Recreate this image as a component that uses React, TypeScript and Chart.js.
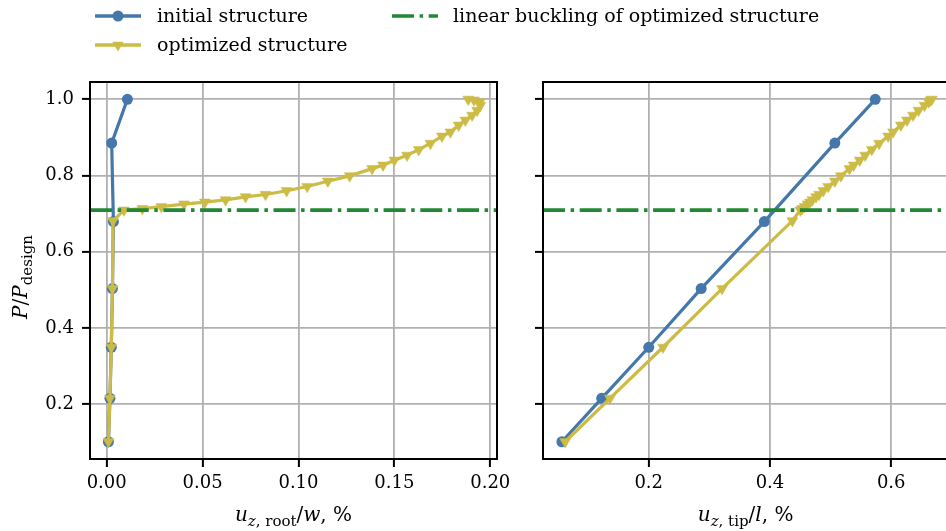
import React, { useEffect, useRef } from "react";
import { Chart, registerables } from "chart.js";

Chart.register(...registerables);

// ---------- data ----------
const initialLoad = [0.101, 0.215, 0.349, 0.503, 0.679, 0.885, 1.0];
const initialRoot = [0.0009, 0.0017, 0.0024, 0.003, 0.0035, 0.0026, 0.0108];
const initialTip = [0.0568, 0.1224, 0.2, 0.2865, 0.3907, 0.507, 0.5737];

const optimizedLoad = [
  0.101, 0.215, 0.349, 0.503, 0.681, 0.709, 0.713, 0.718, 0.725, 0.73, 0.736,
  0.744, 0.75, 0.76, 0.771, 0.785, 0.799, 0.818, 0.827, 0.84, 0.853, 0.868,
  0.884, 0.903, 0.914, 0.932, 0.945, 0.958, 0.971, 0.984, 0.993, 0.998, 1.0,
];
const optimizedRoot = [
  0.0009, 0.0017, 0.0024, 0.003, 0.0033, 0.009, 0.0186, 0.0285, 0.0403, 0.0512,
  0.062, 0.0724, 0.0828, 0.0938, 0.1045, 0.1153, 0.1267, 0.1384, 0.1441, 0.15,
  0.1566, 0.1627, 0.1688, 0.1748, 0.1792, 0.1835, 0.187, 0.1905, 0.1931, 0.1948,
  0.1945, 0.1915, 0.1885,
];
const optimizedTip = [
  0.0622, 0.136, 0.2235, 0.321, 0.437, 0.45, 0.453, 0.457, 0.462, 0.466, 0.47,
  0.476, 0.481, 0.488, 0.496, 0.507, 0.517, 0.531, 0.538, 0.548, 0.557, 0.568,
  0.58, 0.595, 0.603, 0.616, 0.626, 0.636, 0.645, 0.655, 0.662, 0.665, 0.667,
];

const bucklingLoad = 0.709;

const loadTicks = [0.2, 0.4, 0.6, 0.8, 1.0];
const rootTicks = [0.0, 0.05, 0.1, 0.15, 0.2];
const tipTicks = [0.2, 0.4, 0.6];

const legendLabels = [
  "initial structure",
  "optimized structure",
  "linear buckling of optimized structure",
];

// ---------- styles ----------
const BLUE = "#4477AA";
const YELLOW = "#CCBB44";
const GREEN = "#228833";
const GRID = "#b0b0b0";
const FONT = "'DejaVu Serif', serif";
const DASHDOT = [22, 5.6, 3.5, 5.6];

type Part = { t: string; it?: boolean; sub?: boolean };

function drawMath(
  ctx: CanvasRenderingContext2D,
  parts: Part[],
  cx: number,
  baseline: number,
  size: number,
  subSize: number,
  subShift: number
) {
  const fonts = parts.map(
    (p) => `${p.it ? "italic " : ""}${p.sub ? subSize : size}px ${FONT}`
  );
  const widths = parts.map((p, i) => {
    ctx.font = fonts[i];
    return ctx.measureText(p.t).width;
  });
  const total = widths.reduce((a, b) => a + b, 0);
  let x = cx - total / 2;
  ctx.fillStyle = "#000";
  ctx.textAlign = "left";
  ctx.textBaseline = "alphabetic";
  parts.forEach((p, i) => {
    ctx.font = fonts[i];
    ctx.fillText(p.t, x, baseline + (p.sub ? subShift : 0));
    x += widths[i];
  });
}

function drawTriangleDown(ctx: CanvasRenderingContext2D, x: number, y: number, r: number) {
  ctx.beginPath();
  ctx.moveTo(x, y + r);
  ctx.lineTo(x - r * 0.866, y - r * 0.5);
  ctx.lineTo(x + r * 0.866, y - r * 0.5);
  ctx.closePath();
  ctx.fill();
}

const framePlugin = {
  id: "frame",
  afterDatasetsDraw(chart: any) {
    const { ctx, chartArea } = chart;
    ctx.save();
    ctx.strokeStyle = "#000";
    ctx.lineWidth = 2;
    ctx.strokeRect(
      chartArea.left,
      chartArea.top,
      chartArea.right - chartArea.left,
      chartArea.bottom - chartArea.top
    );
    ctx.restore();
  },
};

function makeDatasets(xInit: number[], xOpt: number[], xMin: number, xMax: number) {
  return [
    {
      label: legendLabels[0],
      data: xInit.map((x, i) => ({ x, y: initialLoad[i] })),
      borderColor: BLUE,
      backgroundColor: BLUE,
      borderWidth: 3.2,
      pointStyle: "circle",
      pointRadius: 5.5,
      pointBorderWidth: 0,
      pointBackgroundColor: BLUE,
      tension: 0,
      order: 3,
    },
    {
      label: legendLabels[1],
      data: xOpt.map((x, i) => ({ x, y: optimizedLoad[i] })),
      borderColor: YELLOW,
      backgroundColor: YELLOW,
      borderWidth: 3.2,
      pointStyle: "triangle",
      rotation: 180,
      pointRotation: 180,
      pointRadius: 6.3,
      pointBorderWidth: 0.5,
      pointBorderColor: YELLOW,
      pointBackgroundColor: YELLOW,
      tension: 0,
      order: 2,
    },
    {
      label: legendLabels[2],
      data: [
        { x: xMin, y: bucklingLoad },
        { x: xMax, y: bucklingLoad },
      ],
      borderColor: GREEN,
      backgroundColor: GREEN,
      borderWidth: 3.6,
      borderDash: DASHDOT,
      pointRadius: 0,
      tension: 0,
      order: 1,
    },
  ];
}

function makeScales(
  xMin: number,
  xMax: number,
  xTicks: number[],
  xDigits: number,
  yWidth: number,
  showYLabels: boolean
) {
  const yMin = 0.0557;
  const yMax = 1.0454;
  return {
    x: {
      type: "linear",
      min: xMin,
      max: xMax,
      afterBuildTicks: (s: any) => {
        s.ticks = xTicks.map((v) => ({ value: v }));
      },
      afterFit: (s: any) => {
        s.height = 72;
      },
      ticks: {
        callback: (v: any) => Number(v).toFixed(xDigits),
        font: { family: FONT, size: 18 },
        color: "#000",
        padding: 6,
        maxRotation: 0,
        autoSkip: false,
      },
      grid: {
        color: GRID,
        lineWidth: 1.8,
        drawTicks: true,
        tickLength: 8,
        tickWidth: 2,
        tickColor: "#000",
      },
      border: { display: false },
    },
    y: {
      type: "linear",
      min: yMin,
      max: yMax,
      afterBuildTicks: (s: any) => {
        s.ticks = loadTicks.map((v) => ({ value: v }));
      },
      afterFit: (s: any) => {
        s.width = yWidth;
      },
      ticks: {
        display: showYLabels,
        callback: (v: any) => Number(v).toFixed(1),
        font: { family: FONT, size: 18 },
        color: "#000",
        padding: 8,
        autoSkip: false,
      },
      grid: {
        color: GRID,
        lineWidth: 1.8,
        drawTicks: true,
        tickLength: 8,
        tickWidth: 2,
        tickColor: "#000",
      },
      border: { display: false },
    },
  };
}

export default function App() {
  const leftRef = useRef<HTMLCanvasElement | null>(null);
  const rightRef = useRef<HTMLCanvasElement | null>(null);

  useEffect(() => {
    const lMin = -0.0087;
    const lMax = 0.2035;
    const rMin = 0.0256;
    const rMax = 0.694;

    const leftText = {
      id: "leftText",
      afterDraw(chart: any) {
        const ctx: CanvasRenderingContext2D = chart.ctx;
        const ca = chart.chartArea;
        ctx.save();
        ctx.lineCap = "butt";
        // initial
        ctx.strokeStyle = BLUE;
        ctx.lineWidth = 3.6;
        ctx.beginPath();
        ctx.moveTo(95, 16);
        ctx.lineTo(141, 16);
        ctx.stroke();
        ctx.fillStyle = BLUE;
        ctx.beginPath();
        ctx.arc(118, 16, 5.5, 0, Math.PI * 2);
        ctx.fill();
        // optimized
        ctx.strokeStyle = YELLOW;
        ctx.beginPath();
        ctx.moveTo(95, 45);
        ctx.lineTo(141, 45);
        ctx.stroke();
        ctx.fillStyle = YELLOW;
        drawTriangleDown(ctx, 118, 45, 6.5);
        // buckling
        ctx.strokeStyle = GREEN;
        ctx.lineWidth = 3.6;
        ctx.setLineDash(DASHDOT);
        ctx.beginPath();
        ctx.moveTo(392, 16);
        ctx.lineTo(438, 16);
        ctx.stroke();
        ctx.setLineDash([]);

        ctx.fillStyle = "#000";
        ctx.font = `19px ${FONT}`;
        ctx.textAlign = "left";
        ctx.textBaseline = "alphabetic";
        ctx.fillText(legendLabels[0], 157, 22);
        ctx.fillText(legendLabels[1], 157, 51);
        ctx.fillText(legendLabels[2], 453, 22);

        // x title
        drawMath(
          ctx,
          [
            { t: "u", it: true },
            { t: "z", it: true, sub: true },
            { t: ", root", sub: true },
            { t: "/" },
            { t: "w", it: true },
            { t: ", %" },
          ],
          (ca.left + ca.right) / 2,
          521,
          20,
          15,
          5
        );
        // y title
        ctx.translate(27, 277);
        ctx.rotate(-Math.PI / 2);
        drawMath(
          ctx,
          [
            { t: "P", it: true },
            { t: "/" },
            { t: "P", it: true },
            { t: "design", sub: true },
          ],
          0,
          0,
          20,
          15,
          5
        );
        ctx.restore();
      },
    };

    const rightText = {
      id: "rightText",
      afterDraw(chart: any) {
        const ctx: CanvasRenderingContext2D = chart.ctx;
        const ca = chart.chartArea;
        ctx.save();
        drawMath(
          ctx,
          [
            { t: "u", it: true },
            { t: "z", it: true, sub: true },
            { t: ", tip", sub: true },
            { t: "/" },
            { t: "l", it: true },
            { t: ", %" },
          ],
          (ca.left + ca.right) / 2,
          521,
          20,
          15,
          5
        );
        ctx.restore();
      },
    };

    const left = new Chart(leftRef.current as HTMLCanvasElement, {
      type: "line",
      data: { datasets: makeDatasets(initialRoot, optimizedRoot, lMin, lMax) as any },
      options: {
        animation: false,
        responsive: false,
        devicePixelRatio: 1,
        layout: { padding: { left: 0, right: 449, top: 82, bottom: 0 } },
        plugins: { legend: { display: false }, tooltip: { enabled: false } },
        scales: makeScales(lMin, lMax, rootTicks, 2, 90, true) as any,
      },
      plugins: [framePlugin, leftText],
    });

    const right = new Chart(rightRef.current as HTMLCanvasElement, {
      type: "line",
      data: { datasets: makeDatasets(initialTip, optimizedTip, rMin, rMax) as any },
      options: {
        animation: false,
        responsive: false,
        devicePixelRatio: 1,
        layout: { padding: { left: 0, right: 5, top: 82, bottom: 0 } },
        plugins: { legend: { display: false }, tooltip: { enabled: false } },
        scales: makeScales(rMin, rMax, tipTicks, 1, 23, false) as any,
      },
      plugins: [framePlugin, rightText],
    });

    return () => {
      left.destroy();
      right.destroy();
    };
  }, []);

  return (
    <div
      style={{
        position: "fixed",
        left: 0,
        top: 0,
        width: 946,
        height: 531,
        overflow: "hidden",
        background: "#fff",
      }}
    >
      <canvas
        ref={leftRef}
        width={946}
        height={531}
        style={{ position: "absolute", left: 0, top: 0 }}
      />
      <canvas
        ref={rightRef}
        width={435}
        height={531}
        style={{ position: "absolute", left: 520, top: 0 }}
      />
    </div>
  );
}
